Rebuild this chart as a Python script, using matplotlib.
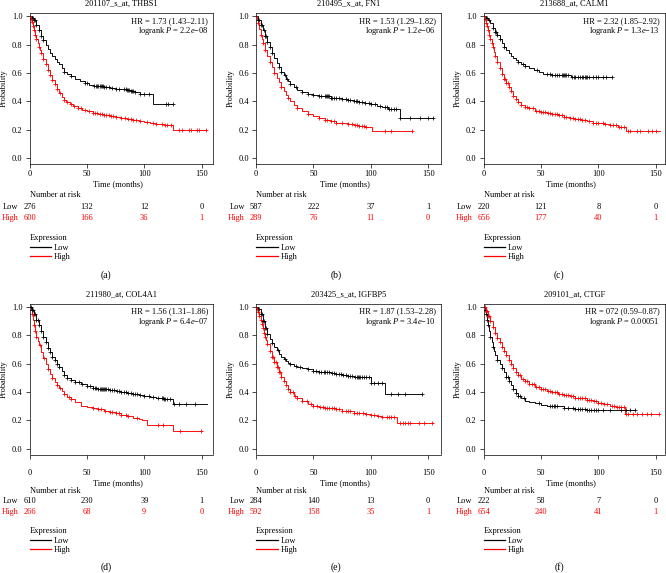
import numpy as np
import matplotlib.pyplot as plt
from matplotlib.transforms import blended_transform_factory

plt.rcParams['font.family'] = ['Liberation Serif', 'DejaVu Serif']
plt.rcParams['mathtext.fontset'] = 'custom'
plt.rcParams['mathtext.rm'] = 'Liberation Serif'
plt.rcParams['mathtext.it'] = 'Liberation Serif:italic'

# ---- data ----
titles = ['201107_s_at, THBS1', '210495_x_at, FN1', '213688_at, CALM1',
          '211980_at, COL4A1', '203425_s_at, IGFBP5', '209101_at, CTGF']
hr_text = ['HR = 1.73 (1.43–2.11)', 'HR = 1.53 (1.29–1.82)', 'HR = 2.32 (1.85–2.92)',
           'HR = 1.56 (1.31–1.86)', 'HR = 1.87 (1.53–2.28)', 'HR = 072 (0.59–0.87)']
p_text = ['2.2$e$−08', '1.2$e$−06', '1.3$e$−13', '6.4$e$−07', '3.4$e$−10', '0.00051']
panel_tags = ['(a)', '(b)', '(c)', '(d)', '(e)', '(f)']

risk_times = [0, 50, 100, 150]
risk_low = [[276, 132, 12, 0], [587, 222, 37, 1], [220, 121, 8, 0],
            [610, 230, 39, 1], [284, 140, 13, 0], [222, 58, 7, 0]]
risk_high = [[600, 166, 36, 1], [289, 76, 11, 0], [656, 177, 40, 1],
             [266, 68, 9, 0], [592, 158, 35, 1], [654, 240, 41, 1]]

# (a) THBS1
a_low_t = [0, 2, 4, 6, 8, 10, 12, 14, 16, 18, 20, 22, 24, 26, 28, 30, 33, 36, 40, 44, 48, 52, 56, 60,
           65, 70, 75, 80, 85, 88, 92, 96, 108, 125]
a_low_s = [1.0, 0.985, 0.97, 0.94, 0.90, 0.86, 0.83, 0.80, 0.77, 0.74, 0.72, 0.70, 0.68, 0.66, 0.635,
           0.61, 0.595, 0.58, 0.56, 0.545, 0.53, 0.515, 0.51, 0.505, 0.50, 0.495, 0.49, 0.485, 0.48,
           0.475, 0.465, 0.455, 0.378, 0.378]
a_low_c = [2, 3, 4, 5, 6, 8, 10, 12, 30, 36, 48, 50, 56, 58, 59, 60, 61, 62, 63, 64, 65, 67, 69, 72,
           75, 78, 82, 84, 85, 86, 87, 88, 89, 90, 92, 96, 100, 104, 119, 121, 125]
a_high_t = [0, 1, 2, 3, 4, 5, 6, 7, 8, 9, 10, 12, 14, 16, 18, 20, 22, 24, 26, 28, 30, 32, 35, 38, 42,
            46, 50, 55, 60, 65, 70, 75, 80, 85, 90, 95, 100, 105, 110, 117, 124, 125, 154]
a_high_s = [1.0, 0.98, 0.96, 0.93, 0.90, 0.87, 0.84, 0.81, 0.78, 0.76, 0.74, 0.70, 0.66, 0.62, 0.585,
            0.55, 0.52, 0.49, 0.46, 0.43, 0.41, 0.395, 0.38, 0.365, 0.35, 0.34, 0.33, 0.32, 0.31,
            0.305, 0.298, 0.29, 0.28, 0.272, 0.265, 0.26, 0.255, 0.248, 0.243, 0.235, 0.23, 0.20, 0.20]
a_high_c = [1, 2, 3, 4, 5, 6, 8, 10, 12, 14, 16, 18, 20, 22, 24, 27, 30, 33, 36, 39, 42, 45, 48, 52,
            55, 57, 59, 61, 63, 65, 67, 69, 71, 73, 75, 80, 83, 86, 88, 90, 93, 96, 102, 108, 110,
            115, 118, 120, 123, 130, 133, 139, 141, 146, 148, 154]

# (b) FN1
b_low_t = [0, 2, 4, 6, 8, 10, 12, 14, 16, 18, 20, 22, 24, 26, 28, 30, 33, 36, 40, 45, 50, 55, 60, 65,
           70, 75, 80, 85, 90, 95, 100, 105, 110, 115, 125, 154]
b_low_s = [1.0, 0.975, 0.94, 0.90, 0.86, 0.82, 0.78, 0.74, 0.705, 0.67, 0.64, 0.61, 0.585, 0.56, 0.54,
           0.52, 0.50, 0.48, 0.465, 0.45, 0.445, 0.44, 0.435, 0.425, 0.42, 0.415, 0.41, 0.405, 0.395,
           0.385, 0.38, 0.37, 0.36, 0.348, 0.28, 0.28]
b_low_c = [2, 3, 4, 5, 7, 8, 9, 10, 12, 14, 20, 22, 25, 27, 30, 35, 40, 45, 50, 55, 57, 60, 61, 62, 63,
           64, 65, 66, 68, 70, 72, 75, 78, 80, 82, 85, 87, 88, 90, 92, 95, 98, 100, 104, 108, 112,
           114, 116, 118, 120, 122, 125, 134, 143, 150, 154]
b_high_t = [0, 1, 2, 3, 4, 5, 6, 8, 10, 12, 14, 16, 18, 20, 22, 24, 26, 28, 30, 33, 36, 40, 45, 50, 55,
            60, 65, 70, 75, 80, 85, 90, 95, 101, 136]
b_high_s = [1.0, 0.98, 0.95, 0.91, 0.87, 0.84, 0.81, 0.76, 0.72, 0.68, 0.64, 0.60, 0.565, 0.535, 0.50,
            0.47, 0.445, 0.42, 0.40, 0.375, 0.355, 0.335, 0.31, 0.295, 0.28, 0.27, 0.26, 0.25, 0.245,
            0.24, 0.235, 0.228, 0.22, 0.19, 0.19]
b_high_c = [2, 4, 6, 8, 12, 16, 22, 28, 36, 45, 55, 60, 62, 65, 68, 70, 75, 80, 84, 86, 88, 90, 92, 94,
            96, 112, 118, 136]

# (c) CALM1
c_low_t = [0, 2, 4, 6, 8, 10, 12, 14, 16, 18, 20, 22, 24, 26, 28, 30, 33, 36, 40, 44, 48, 52, 56, 60,
           70, 76, 112]
c_low_s = [1.0, 0.99, 0.97, 0.95, 0.92, 0.89, 0.87, 0.84, 0.81, 0.78, 0.76, 0.74, 0.72, 0.705, 0.69,
           0.68, 0.665, 0.65, 0.635, 0.62, 0.605, 0.595, 0.59, 0.588, 0.583, 0.575, 0.575]
c_low_c = [3, 5, 8, 10, 11, 12, 14, 18, 30, 34, 36, 47, 55, 58, 60, 62, 64, 66, 68, 69, 70, 71, 72, 74,
           77, 79, 80, 82, 84, 86, 87, 88, 89, 90, 92, 95, 98, 100, 104, 107, 112]
c_high_t = [0, 1, 2, 3, 4, 5, 6, 7, 8, 9, 10, 12, 14, 16, 18, 20, 22, 24, 26, 28, 30, 33, 36, 40, 45,
            50, 55, 60, 65, 70, 75, 80, 85, 90, 95, 100, 105, 110, 117, 124, 154]
c_high_s = [1.0, 0.98, 0.955, 0.93, 0.90, 0.87, 0.84, 0.81, 0.78, 0.75, 0.72, 0.675, 0.635, 0.595,
            0.56, 0.53, 0.50, 0.47, 0.44, 0.415, 0.395, 0.375, 0.36, 0.35, 0.335, 0.325, 0.315, 0.31,
            0.30, 0.29, 0.285, 0.275, 0.268, 0.26, 0.25, 0.245, 0.238, 0.23, 0.222, 0.19, 0.19]
c_high_c = [1, 2, 3, 4, 5, 6, 7, 8, 10, 12, 14, 16, 18, 19, 20, 21, 22, 24, 26, 28, 30, 33, 36, 38, 40,
            43, 46, 48, 50, 52, 54, 56, 58, 60, 62, 64, 66, 68, 70, 72, 75, 78, 80, 82, 84, 86, 88,
            92, 95, 98, 100, 104, 106, 110, 113, 115, 118, 120, 122, 126, 128, 134, 136, 143, 147, 150]

# (d) COL4A1
d_low_t = [0, 2, 4, 6, 8, 10, 12, 14, 16, 18, 20, 22, 24, 26, 28, 30, 33, 36, 40, 45, 50, 55, 60, 65,
           70, 75, 80, 85, 90, 95, 100, 105, 110, 117, 125, 155]
d_low_s = [1.0, 0.98, 0.95, 0.91, 0.87, 0.83, 0.79, 0.75, 0.71, 0.68, 0.65, 0.625, 0.60, 0.575, 0.55,
           0.52, 0.50, 0.485, 0.47, 0.455, 0.44, 0.43, 0.425, 0.42, 0.415, 0.41, 0.40, 0.395, 0.385,
           0.38, 0.37, 0.365, 0.358, 0.35, 0.315, 0.315]
d_low_c = [1, 2, 3, 4, 5, 6, 7, 8, 10, 12, 14, 16, 18, 20, 22, 24, 26, 30, 33, 36, 40, 43, 46, 50, 53,
           55, 57, 58, 60, 61, 62, 63, 64, 65, 66, 67, 68, 70, 72, 74, 76, 78, 80, 82, 84, 86, 88, 90,
           92, 94, 96, 100, 104, 108, 112, 115, 116, 117, 118, 120, 122, 126, 130, 136, 144]
d_high_t = [0, 1, 2, 3, 4, 5, 6, 7, 8, 10, 12, 14, 16, 18, 20, 22, 24, 26, 28, 30, 33, 36, 40, 45, 50,
            55, 60, 65, 70, 75, 80, 85, 90, 95, 98, 102, 125, 150]
d_high_s = [1.0, 0.98, 0.95, 0.91, 0.87, 0.83, 0.79, 0.76, 0.73, 0.68, 0.64, 0.60, 0.56, 0.53, 0.50,
            0.47, 0.45, 0.43, 0.41, 0.385, 0.365, 0.35, 0.33, 0.305, 0.295, 0.29, 0.28, 0.27, 0.26,
            0.25, 0.24, 0.23, 0.22, 0.21, 0.20, 0.17, 0.125, 0.125]
d_high_c = [2, 4, 5, 6, 9, 13, 16, 20, 24, 27, 30, 34, 36, 55, 60, 62, 66, 70, 72, 75, 78, 80, 84, 86,
            94, 112, 116, 131, 149]

# (e) IGFBP5
e_low_t = [0, 2, 4, 6, 8, 10, 12, 14, 16, 18, 20, 22, 24, 26, 28, 30, 33, 36, 40, 45, 50, 55, 60, 65,
           70, 75, 80, 85, 90, 100, 112, 145]
e_low_s = [1.0, 0.985, 0.95, 0.90, 0.85, 0.81, 0.775, 0.745, 0.72, 0.695, 0.67, 0.65, 0.635, 0.62,
           0.605, 0.595, 0.585, 0.575, 0.57, 0.56, 0.55, 0.545, 0.54, 0.535, 0.525, 0.52, 0.515, 0.51,
           0.505, 0.465, 0.385, 0.385]
e_low_c = [2, 3, 4, 5, 6, 7, 8, 9, 10, 14, 19, 25, 30, 35, 38, 45, 50, 52, 55, 57, 59, 60, 62, 64, 66,
           68, 70, 72, 74, 76, 78, 80, 82, 84, 86, 88, 89, 90, 91, 92, 94, 96, 98, 100, 103, 106, 110,
           118, 124, 130, 145]
e_high_t = [0, 1, 2, 3, 4, 5, 6, 7, 8, 9, 10, 12, 14, 16, 18, 20, 22, 24, 26, 28, 30, 33, 36, 40, 45,
            50, 55, 60, 65, 70, 75, 80, 85, 90, 95, 100, 105, 110, 115, 123, 154]
e_high_s = [1.0, 0.985, 0.965, 0.94, 0.91, 0.88, 0.85, 0.82, 0.79, 0.765, 0.74, 0.69, 0.65, 0.61,
            0.575, 0.54, 0.51, 0.48, 0.45, 0.42, 0.40, 0.375, 0.355, 0.335, 0.315, 0.305, 0.295, 0.29,
            0.285, 0.28, 0.27, 0.265, 0.255, 0.25, 0.245, 0.238, 0.232, 0.228, 0.222, 0.18, 0.18]
e_high_c = [1, 2, 3, 4, 5, 6, 7, 8, 10, 12, 14, 15, 16, 17, 18, 19, 20, 21, 22, 24, 26, 28, 30, 32, 34,
            36, 40, 44, 48, 50, 53, 56, 58, 60, 62, 64, 66, 68, 70, 72, 75, 78, 80, 82, 85, 88, 90, 93,
            96, 100, 103, 106, 110, 114, 116, 118, 120, 125, 128, 130, 132, 134, 142, 146, 153]

# (f) CTGF
f_low_t = [0, 1, 2, 3, 4, 5, 6, 7, 8, 9, 10, 12, 14, 16, 18, 20, 22, 24, 26, 28, 30, 33, 36, 40, 45,
           50, 55, 60, 70, 80, 90, 132]
f_low_s = [1.0, 0.98, 0.95, 0.91, 0.87, 0.83, 0.79, 0.75, 0.72, 0.69, 0.665, 0.63, 0.60, 0.57, 0.54,
           0.51, 0.48, 0.45, 0.42, 0.395, 0.375, 0.355, 0.34, 0.33, 0.32, 0.31, 0.305, 0.30, 0.29,
           0.28, 0.275, 0.275]
f_low_c = [1, 2, 3, 4, 6, 8, 12, 16, 20, 21, 22, 26, 28, 30, 32, 35, 48, 58, 60, 61, 62, 64, 70, 74,
           78, 80, 82, 84, 86, 88, 90, 92, 94, 96, 98, 100, 104, 110, 120, 124, 128, 132]
f_high_t = [0, 2, 4, 6, 8, 10, 12, 14, 16, 18, 20, 22, 24, 26, 28, 30, 33, 36, 40, 45, 50, 55, 60, 65,
            70, 75, 80, 85, 90, 95, 100, 105, 110, 115, 123, 153]
f_high_s = [1.0, 0.975, 0.94, 0.90, 0.86, 0.82, 0.785, 0.75, 0.72, 0.69, 0.66, 0.63, 0.60, 0.57,
            0.545, 0.52, 0.495, 0.475, 0.455, 0.435, 0.42, 0.41, 0.40, 0.39, 0.38, 0.37, 0.362, 0.355,
            0.345, 0.335, 0.325, 0.315, 0.305, 0.295, 0.245, 0.245]
f_high_c = [1, 2, 3, 4, 5, 6, 8, 10, 12, 14, 16, 18, 20, 22, 24, 26, 28, 30, 32, 34, 36, 38, 40, 42,
            44, 46, 48, 50, 52, 54, 56, 58, 60, 62, 64, 66, 68, 70, 72, 74, 76, 78, 80, 82, 84, 86, 88,
            90, 92, 94, 96, 98, 100, 102, 105, 108, 112, 114, 116, 118, 120, 122, 124, 126, 130, 134,
            138, 142, 146, 153]

curves = [
    (a_low_t, a_low_s, a_low_c, a_high_t, a_high_s, a_high_c),
    (b_low_t, b_low_s, b_low_c, b_high_t, b_high_s, b_high_c),
    (c_low_t, c_low_s, c_low_c, c_high_t, c_high_s, c_high_c),
    (d_low_t, d_low_s, d_low_c, d_high_t, d_high_s, d_high_c),
    (e_low_t, e_low_s, e_low_c, e_high_t, e_high_s, e_high_c),
    (f_low_t, f_low_s, f_low_c, f_high_t, f_high_s, f_high_c),
]

# ---- layout (pixels) ----
W, H = 666, 573
FS = 6
RED = '#ff0000'
col_left = [29.5, 256.0, 483.5]
col_xmax = [160, 161, 158]
col_tag_x = [106, 336, 559]
PPM = 1.148          # pixels per month
AX_H = 151
rows = [
    dict(top=12.7, title=3.5, xpad=1.8, xlab=184.3, nar=195.0, low=206.7, high=218.3, leg=234.0, tag=275.0),
    dict(top=303.5, title=295.0, xpad=7.5, xlab=483.3, nar=491.0, low=501.0, high=512.0, leg=527.0, tag=566.7),
]


def fx(px):
    return px / W


def fy(py):
    return 1 - py / H


def step_value(t, s, c):
    idx = np.searchsorted(t, c, side='right') - 1
    return np.asarray(s)[idx]


fig = plt.figure(figsize=(W / 100, H / 100), dpi=100)

for i in range(6):
    r, col = divmod(i, 3)
    row = rows[r]
    left, top = col_left[col], row['top']
    width = col_xmax[col] * PPM
    ax = fig.add_axes([fx(left), fy(top + AX_H), width / W, AX_H / H])

    lt, ls, lc, ht, hs, hc = curves[i]
    low_line, = ax.step(lt, ls, where='post', color='black', lw=0.65)
    high_line, = ax.step(ht, hs, where='post', color=RED, lw=0.65)
    ax.plot(lc, step_value(lt, ls, lc), '+', color='black', ms=3.3, mew=0.55)
    ax.plot(hc, step_value(ht, hs, hc), '+', color=RED, ms=3.3, mew=0.55)

    ax.set_xlim(0, col_xmax[col])
    ax.set_ylim(-0.04, 1.025)
    ax.set_xticks(risk_times)
    ax.set_yticks(np.arange(0, 1.01, 0.2))
    ax.set_yticklabels([f'{v:.1f}' for v in np.arange(0, 1.01, 0.2)])
    ax.tick_params(labelsize=FS, length=2.8, width=0.5, pad=2.2)
    ax.tick_params(axis='x', pad=row['xpad'])
    for sp in ax.spines.values():
        sp.set_linewidth(0.5)

    cx = left + width / 2
    fig.text(fx(cx), fy(row['title']), titles[i], fontsize=FS, ha='center', va='center')
    fig.text(fx(left - 25.5), fy(top + AX_H / 2), 'Probability', fontsize=FS,
             rotation=90, ha='center', va='center')
    fig.text(fx(cx - 3), fy(row['xlab']), 'Time (months)', fontsize=FS, ha='center', va='center')
    fig.text(fx(left + width - 5), fy(top + 8), hr_text[i], fontsize=FS, ha='right', va='center')
    fig.text(fx(left + width - 5), fy(top + 18.5), 'logrank $P$ = ' + p_text[i], fontsize=FS,
             ha='right', va='center')

    # number at risk table, numbers placed on the time axis
    trans = blended_transform_factory(ax.transData, fig.transFigure)
    fig.text(fx(left), fy(row['nar']), 'Number at risk', fontsize=FS, ha='left', va='center')
    fig.text(fx(left - 11), fy(row['low']), 'Low', fontsize=FS, ha='right', va='center')
    fig.text(fx(left - 11), fy(row['high']), 'High', fontsize=FS, ha='right', va='center', color=RED)
    for m, nl, nh in zip(risk_times, risk_low[i], risk_high[i]):
        ax.text(m, fy(row['low']), str(nl), transform=trans, fontsize=FS, ha='center', va='center',
                clip_on=False)
        ax.text(m, fy(row['high']), str(nh), transform=trans, fontsize=FS, ha='center', va='center',
                color=RED, clip_on=False)

    leg = ax.legend([low_line, high_line], ['Low', 'High'], title='Expression', loc='upper left',
                    bbox_to_anchor=(fx(left), fy(row['leg'])), bbox_transform=fig.transFigure,
                    frameon=False, fontsize=FS, title_fontsize=FS, alignment='left', borderpad=0,
                    borderaxespad=0, handlelength=2.6, handletextpad=0.35, labelspacing=0.2)
    for ln in leg.get_lines():
        ln.set_linewidth(0.9)

    fig.text(fx(col_tag_x[col]), fy(row['tag']), panel_tags[i], fontsize=7, ha='center', va='center')

fig.savefig('out.png', dpi=100)
